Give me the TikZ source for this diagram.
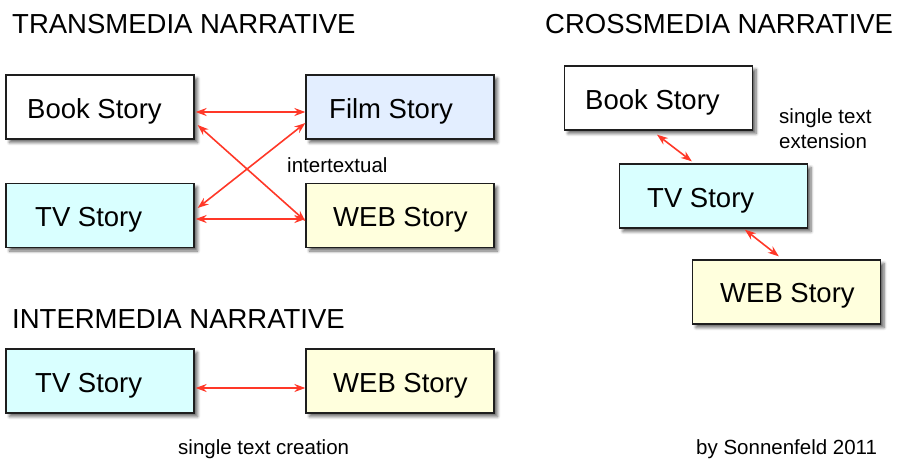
\documentclass[tikz,border=0pt]{standalone}
\usepackage{fontspec}
\setmainfont{Liberation Sans}
\usetikzlibrary{arrows.meta,shadows.blur}
\definecolor{filmfill}{RGB}{227,238,255}
\definecolor{tvfill}{RGB}{217,255,255}
\definecolor{webfill}{RGB}{255,255,221}
\definecolor{arrowred}{RGB}{255,56,40}
\definecolor{boxline}{RGB}{30,30,30}
\tikzset{
  storybox/.style={draw=boxline, line width=1.3pt, minimum width=188pt, minimum height=64pt, inner sep=0pt,
    blur shadow={shadow xshift=3.5pt, shadow yshift=-3.5pt, shadow blur steps=6, shadow opacity=60, shadow blur radius=3pt}},
  boxlabel/.style={anchor=base west, inner sep=0pt, font=\fontsize{27.5}{33}\selectfont},
  heading/.style={anchor=base west, inner sep=0pt, font=\fontsize{27.5}{33}\selectfont},
  note/.style={anchor=base west, inner sep=0pt, font=\fontsize{20.5}{25}\selectfont},
  link/.style={draw=arrowred, line width=1.6pt, {Stealth[length=11pt,width=8pt]}-{Stealth[length=11pt,width=8pt]}}
}
\begin{document}
\begin{tikzpicture}[x=1pt,y=-1pt]
\useasboundingbox (0,0) rectangle (901,458);
% headings
\node[heading] (h1) at (12,33) {TRANSMEDIA NARRATIVE};
\node[heading] (h2) at (545,33) {CROSSMEDIA NARRATIVE};
\node[heading] (h3) at (12,328) {INTERMEDIA NARRATIVE};
% transmedia boxes
\node[storybox, fill=white] (tbook) at (100,107) {};
\node[storybox, fill=filmfill] (tfilm) at (400,107) {};
\node[storybox, fill=tvfill] (ttv) at (100,215.5) {};
\node[storybox, fill=webfill] (tweb) at (400,215.5) {};
\node[boxlabel] (tbookl) at (27,118) {Book Story};
\node[boxlabel] (tfilml) at (329,118) {Film Story};
\node[boxlabel] (ttvl) at (35,226) {TV Story};
\node[boxlabel] (twebl) at (333,226) {WEB Story};
\node[note] (inter) at (287,172) {intertextual};
% transmedia arrows
\draw[link] ([xshift=1pt,yshift=-5pt]tbook.east) -- ([yshift=-5pt]tfilm.west);
\draw[link] ([xshift=1pt,yshift=-3.5pt]ttv.east) -- ([yshift=-3.5pt]tweb.west);
\draw[link] ([xshift=3pt,yshift=-18pt]tbook.east) -- ([yshift=-5.5pt]tweb.west);
\draw[link] ([yshift=-16pt]tfilm.west) -- ([xshift=3pt,yshift=7.5pt]ttv.east);
% intermedia
\node[storybox, fill=tvfill] (itv) at (100,381) {};
\node[storybox, fill=webfill] (iweb) at (400,381) {};
\node[boxlabel] (itvl) at (35,392) {TV Story};
\node[boxlabel] (iwebl) at (333,392) {WEB Story};
\draw[link] ([xshift=1pt,yshift=-7pt]itv.east) -- ([yshift=-7pt]iweb.west);
\node[note] (creation) at (178,454) {single text creation};
% crossmedia
\node[storybox, fill=white] (cbook) at (658.5,98) {};
\node[storybox, fill=tvfill] (ctv) at (713.5,196) {};
\node[storybox, fill=webfill] (cweb) at (786.5,292) {};
\node[boxlabel] (cbookl) at (585,109) {Book Story};
\node[boxlabel] (ctvl) at (647,207) {TV Story};
\node[boxlabel] (cwebl) at (720,302) {WEB Story};
\node[note] (ext1) at (779,123) {single text};
\node[note] (ext2) at (779,148) {extension};
\draw[link] ([xshift=-1.5pt,yshift=-4pt]cbook.south) -- ([xshift=73pt,yshift=2pt]ctv.north west);
\draw[link] ([xshift=126pt,yshift=-1pt]ctv.south west) -- ([xshift=87pt,yshift=3pt]cweb.north west);
\node[note] (credit) at (696,454) {by Sonnenfeld 2011};
\end{tikzpicture}
\end{document}
